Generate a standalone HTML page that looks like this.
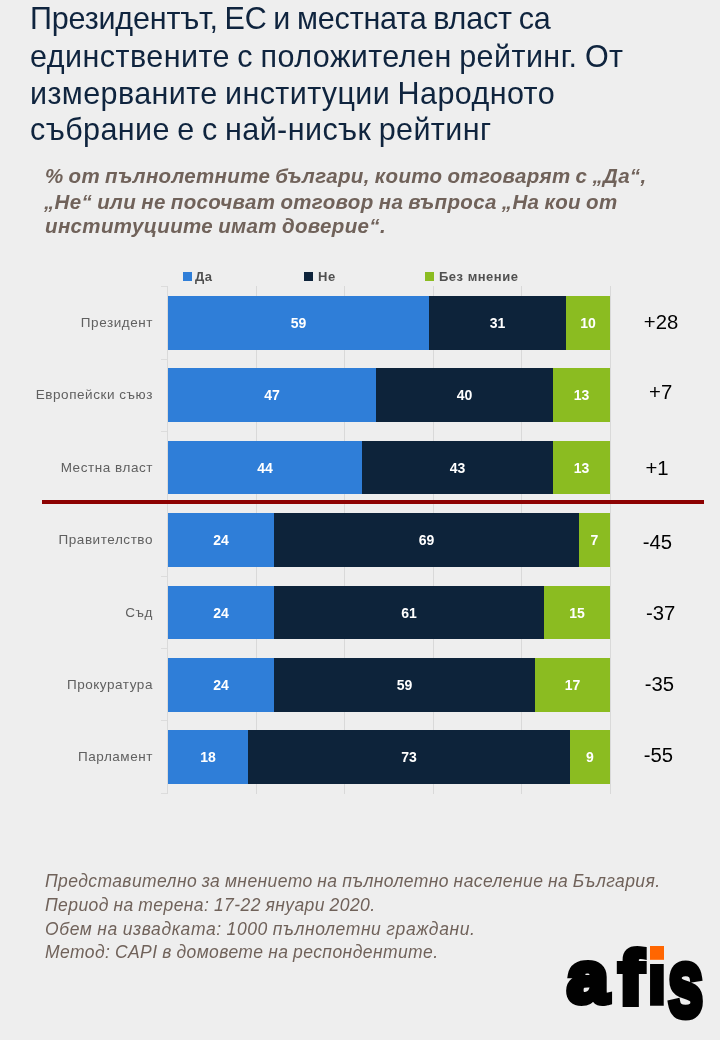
<!DOCTYPE html>
<html lang="bg"><head><meta charset="utf-8"><title>Рейтинг на институциите</title>
<style>
html,body{margin:0;padding:0}
body{width:720px;height:1040px;background:#eeeeee;position:relative;overflow:hidden;font-family:"Liberation Sans",sans-serif}
.abs{position:absolute;white-space:nowrap}
#page{position:absolute;left:0;top:0;width:720px;height:1040px;will-change:transform;opacity:.999}
.t{font-size:30.5px;line-height:36px;color:#0f243e}
.s{font-size:20.5px;line-height:24px;font-weight:700;font-style:italic;color:#70625a}
.f{font-size:17.5px;line-height:22px;font-style:italic;color:#70625a}
.grid{position:absolute;width:1px;background:#d9d9d9;top:286px;height:508px}
.tick{position:absolute;height:1px;width:6px;left:161px;background:#dcdcdc}
.seg{position:absolute;height:54px;color:#fff;font-weight:700;font-size:14px;line-height:55px;text-align:center}
.b{background:#2f7ed8}.n{background:#0d233a}.g{background:#8bbc21}
.cat{position:absolute;right:567px;font-size:13.5px;letter-spacing:.55px;color:#606060;line-height:16px;white-space:nowrap;text-align:right}
.num{position:absolute;font-size:20.3px;line-height:24px;color:#000;white-space:nowrap;transform:translateX(-50%)}
.lg{position:absolute;top:272px;width:9px;height:9px}
.lt{position:absolute;top:269px;font-size:13px;font-weight:700;letter-spacing:.5px;color:#505050;line-height:16px;white-space:nowrap}
</style></head><body><div id="page">

<div class="abs t" style="left:30px;top:0.18px;letter-spacing:-0.178px;word-spacing:-1.5px">Президентът, ЕС и местната власт са</div>
<div class="abs t" style="left:30px;top:38.43px;letter-spacing:0.455px;word-spacing:-1.5px">единствените с положителен рейтинг. От</div>
<div class="abs t" style="left:30px;top:75.18px;letter-spacing:0.401px;word-spacing:-1.5px">измерваните институции Народното</div>
<div class="abs t" style="left:30px;top:111.43px;letter-spacing:0.412px;word-spacing:-1.5px">събрание е с най-нисък рейтинг</div>
<div class="abs s" style="left:45px;top:164.20px;letter-spacing:0.343px;word-spacing:-1px">% от пълнолетните българи, които отговарят с „Да“,</div>
<div class="abs s" style="left:44px;top:189.80px;letter-spacing:0.366px;word-spacing:-1px">„Не“ или не посочват отговор на въпроса „На кои от</div>
<div class="abs s" style="left:45px;top:213.90px;letter-spacing:0.356px;word-spacing:-1px">институциите имат доверие“.</div>
<div class="abs f" style="left:45px;top:870.04px;letter-spacing:0.412px;word-spacing:-0.6px">Представително за мнението на пълнолетно население на България.</div>
<div class="abs f" style="left:45px;top:893.94px;letter-spacing:0.418px;word-spacing:-0.6px">Период на терена: 17-22 януари 2020.</div>
<div class="abs f" style="left:45px;top:917.54px;letter-spacing:0.601px;word-spacing:-0.6px">Обем на извадката: 1000 пълнолетни граждани.</div>
<div class="abs f" style="left:45px;top:940.94px;letter-spacing:0.421px;word-spacing:-0.6px">Метод: CAPI в домовете на респондентите.</div>
<div class="lg b" style="left:183px"></div><div class="lt" style="left:195px">Да</div>
<div class="lg n" style="left:304px"></div><div class="lt" style="left:318px">Не</div>
<div class="lg g" style="left:425px"></div><div class="lt" style="left:439px">Без мнение</div>
<div class="grid" style="left:256px"></div>
<div class="grid" style="left:344px"></div>
<div class="grid" style="left:433px"></div>
<div class="grid" style="left:521px"></div>
<div class="grid" style="left:610px"></div>
<div class="grid" style="left:167px;background:#dadada"></div>
<div class="tick" style="top:286px"></div>
<div class="tick" style="top:359px"></div>
<div class="tick" style="top:431px"></div>
<div class="tick" style="top:503px"></div>
<div class="tick" style="top:576px"></div>
<div class="tick" style="top:648px"></div>
<div class="tick" style="top:720px"></div>
<div class="tick" style="top:793px"></div>
<div class="seg b" style="left:168px;top:296px;width:261px;height:54px;line-height:55px">59</div>
<div class="seg n" style="left:429px;top:296px;width:137px;height:54px;line-height:55px">31</div>
<div class="seg g" style="left:566px;top:296px;width:44px;height:54px;line-height:55px">10</div>
<div class="cat" style="top:315.30px">Президент</div>
<div class="num" style="left:661.0px;top:309.77px">+28</div>
<div class="seg b" style="left:168px;top:368px;width:208px;height:54px;line-height:55px">47</div>
<div class="seg n" style="left:376px;top:368px;width:177px;height:54px;line-height:55px">40</div>
<div class="seg g" style="left:553px;top:368px;width:57px;height:54px;line-height:55px">13</div>
<div class="cat" style="top:387.30px">Европейски съюз</div>
<div class="num" style="left:660.6px;top:379.67px">+7</div>
<div class="seg b" style="left:168px;top:441px;width:194px;height:53px;line-height:54px">44</div>
<div class="seg n" style="left:362px;top:441px;width:191px;height:53px;line-height:54px">43</div>
<div class="seg g" style="left:553px;top:441px;width:57px;height:53px;line-height:54px">13</div>
<div class="cat" style="top:459.80px">Местна власт</div>
<div class="num" style="left:657.0px;top:455.97px">+1</div>
<div class="seg b" style="left:168px;top:513px;width:106px;height:54px;line-height:55px">24</div>
<div class="seg n" style="left:274px;top:513px;width:305px;height:54px;line-height:55px">69</div>
<div class="seg g" style="left:579px;top:513px;width:31px;height:54px;line-height:55px">7</div>
<div class="cat" style="top:532.30px">Правителство</div>
<div class="num" style="left:657.5px;top:529.67px">-45</div>
<div class="seg b" style="left:168px;top:586px;width:106px;height:53px;line-height:54px">24</div>
<div class="seg n" style="left:274px;top:586px;width:270px;height:53px;line-height:54px">61</div>
<div class="seg g" style="left:544px;top:586px;width:66px;height:53px;line-height:54px">15</div>
<div class="cat" style="top:604.80px">Съд</div>
<div class="num" style="left:660.7px;top:600.77px">-37</div>
<div class="seg b" style="left:168px;top:658px;width:106px;height:54px;line-height:55px">24</div>
<div class="seg n" style="left:274px;top:658px;width:261px;height:54px;line-height:55px">59</div>
<div class="seg g" style="left:535px;top:658px;width:75px;height:54px;line-height:55px">17</div>
<div class="cat" style="top:677.30px">Прокуратура</div>
<div class="num" style="left:659.5px;top:671.97px">-35</div>
<div class="seg b" style="left:168px;top:730px;width:80px;height:54px;line-height:55px">18</div>
<div class="seg n" style="left:248px;top:730px;width:322px;height:54px;line-height:55px">73</div>
<div class="seg g" style="left:570px;top:730px;width:40px;height:54px;line-height:55px">9</div>
<div class="cat" style="top:749.30px">Парламент</div>
<div class="num" style="left:658.5px;top:743.27px">-55</div>
<div style="position:absolute;left:42px;top:500px;width:662px;height:4px;background:#8c0000"></div>
<svg style="position:absolute;left:550px;top:930px" width="170" height="110" viewBox="550 930 170 110">
<text font-family="Liberation Sans, sans-serif" font-weight="700" fill="#000" stroke="#000" stroke-linejoin="miter"><tspan x="567.5" y="1002.45" font-size="72.28" stroke-width="7" textLength="40.58" lengthAdjust="spacingAndGlyphs">a</tspan><tspan x="618.45" y="1003.7" font-size="75.52" stroke-width="6" textLength="25.08" lengthAdjust="spacingAndGlyphs">f</tspan><tspan x="647.5" y="1004.2" font-size="76.9" stroke-width="5" textLength="18.84" lengthAdjust="spacingAndGlyphs">i</tspan><tspan x="668.0" y="1015.5" font-size="96.46" stroke-width="7" textLength="35.21" lengthAdjust="spacingAndGlyphs">s</tspan></text>
<rect x="648" y="943" width="18" height="21" fill="#eeeeee"/><rect x="650" y="946" width="14" height="13.8" fill="#ff6600"/></svg>
</div></body></html>
